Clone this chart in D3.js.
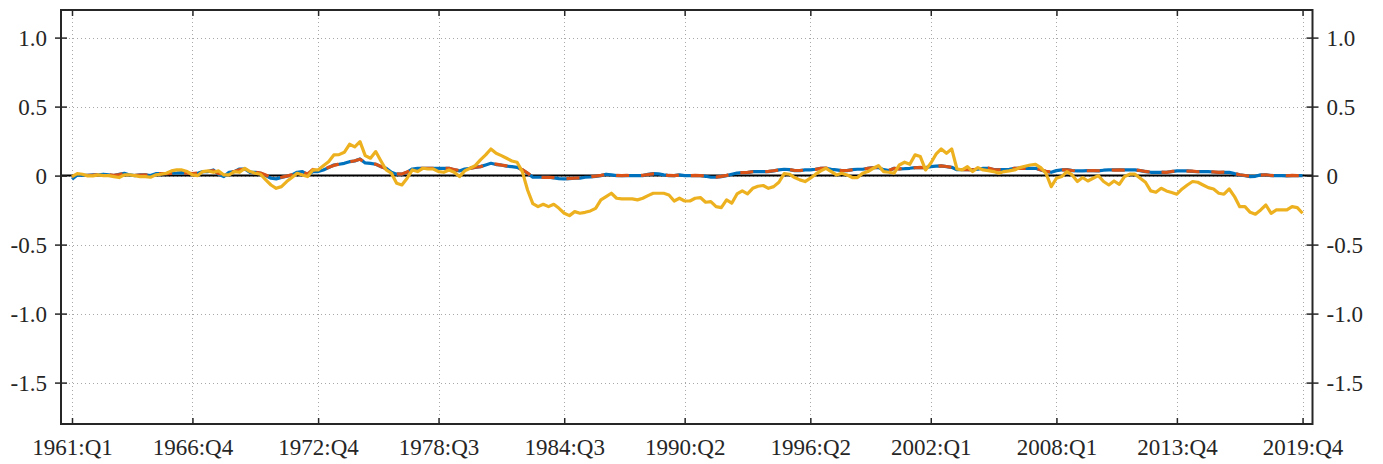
<!DOCTYPE html>
<html>
<head>
<meta charset="utf-8">
<script src="https://cdn.jsdelivr.net/npm/d3@7"></script>
<style>
  html, body { margin: 0; padding: 0; background: #fff; }
  svg { display: block; }
  text { font-family: "Liberation Serif", "Times New Roman", serif; fill: #262626; }
</style>
</head>
<body>
<svg id="chart" width="1383" height="464"></svg>
<script>
// Quarterly periods, 1961:Q1 .. 2019:Q4
const firstYear = 1961;
const lastYear = 2019;
const periods = [];
for (let y = firstYear; y <= lastYear; y++) for (let q = 1; q <= 4; q++) periods.push(y + ":Q" + q);

const xTickLabels = ["1961:Q1", "1966:Q4", "1972:Q4", "1978:Q3", "1984:Q3", "1990:Q2",
                     "1996:Q2", "2002:Q1", "2008:Q1", "2013:Q4", "2019:Q4"];
const yTickValues = [-1.5, -1.0, -0.5, 0, 0.5, 1.0];
const yTickLabels = ["-1.5", "-1.0", "-0.5", "0", "0.5", "1.0"];

// Series 1 (blue)
const seriesBlue = [
  -0.027, 0.005, 0.003, 0.002, 0.005, 0.005, 0.010, 0.005, 0.000, 0.010,
  0.017, 0.005, 0.000, 0.005, 0.005, 0.000, 0.014, 0.014, 0.014, 0.017,
  0.019, 0.022, 0.017, 0.014, 0.017, 0.029, 0.029, 0.041, 0.010, -0.007,
  0.024, 0.029, 0.048, 0.048, 0.024, 0.024, 0.017, 0.000, -0.019, -0.024,
  -0.014, -0.005, 0.005, 0.024, 0.029, 0.005, 0.029, 0.029, 0.041, 0.058,
  0.077, 0.082, 0.089, 0.101, 0.106, 0.121, 0.092, 0.089, 0.082, 0.065,
  0.053, 0.024, 0.010, 0.010, 0.024, 0.048, 0.053, 0.053, 0.053, 0.053,
  0.053, 0.053, 0.053, 0.041, 0.034, 0.048, 0.053, 0.060, 0.065, 0.077,
  0.089, 0.080, 0.077, 0.068, 0.065, 0.060, 0.041, 0.017, -0.012, -0.012,
  -0.012, -0.012, -0.017, -0.022, -0.024, -0.022, -0.019, -0.019, -0.012, -0.010,
  -0.005, 0.000, 0.010, 0.005, 0.000, 0.000, 0.000, 0.000, 0.000, 0.000,
  0.010, 0.014, 0.012, 0.005, 0.000, 0.000, 0.005, 0.000, 0.000, 0.000,
  0.000, -0.005, -0.012, -0.012, -0.007, 0.000, 0.010, 0.019, 0.022, 0.022,
  0.029, 0.029, 0.029, 0.029, 0.034, 0.041, 0.046, 0.043, 0.036, 0.036,
  0.041, 0.041, 0.046, 0.053, 0.053, 0.046, 0.041, 0.036, 0.036, 0.043,
  0.046, 0.046, 0.053, 0.058, 0.058, 0.043, 0.036, 0.053, 0.048, 0.050,
  0.053, 0.058, 0.058, 0.058, 0.065, 0.068, 0.070, 0.065, 0.060, 0.043,
  0.043, 0.043, 0.043, 0.046, 0.053, 0.053, 0.043, 0.043, 0.043, 0.046,
  0.053, 0.053, 0.053, 0.053, 0.053, 0.041, 0.029, 0.024, 0.036, 0.041,
  0.043, 0.036, 0.034, 0.034, 0.036, 0.036, 0.034, 0.039, 0.041, 0.041,
  0.041, 0.041, 0.041, 0.041, 0.036, 0.029, 0.024, 0.024, 0.024, 0.024,
  0.029, 0.034, 0.034, 0.034, 0.031, 0.029, 0.029, 0.029, 0.026, 0.024,
  0.024, 0.024, 0.014, 0.005, 0.000, -0.007, -0.005, 0.005, 0.005, 0.000,
  0.000, 0.000, -0.002, 0.000, 0.000, 0.000
];

// Series 2 (red, dashed)
const seriesRed = [
  -0.008, 0.002, 0.000, 0.002, 0.003, 0.005, 0.008, 0.006, 0.002, 0.008,
  0.015, 0.007, 0.002, 0.004, 0.006, 0.002, 0.012, 0.015, 0.014, 0.016,
  0.020, 0.021, 0.018, 0.015, 0.018, 0.027, 0.031, 0.036, 0.015, 0.002,
  0.022, 0.030, 0.043, 0.045, 0.028, 0.025, 0.019, 0.004, -0.012, -0.018,
  -0.012, -0.004, 0.006, 0.022, 0.026, 0.012, 0.045, 0.031, 0.042, 0.060,
  0.074, 0.084, 0.086, 0.099, 0.108, 0.118, 0.096, 0.087, 0.083, 0.066,
  0.050, 0.026, 0.012, 0.011, 0.026, 0.046, 0.054, 0.052, 0.053, 0.052,
  0.054, 0.052, 0.053, 0.043, 0.038, 0.046, 0.052, 0.061, 0.064, 0.079,
  0.087, 0.083, 0.076, 0.070, 0.064, 0.058, 0.043, 0.019, -0.010, -0.011,
  -0.013, -0.012, -0.015, -0.020, -0.022, -0.021, -0.018, -0.017, -0.011, -0.008,
  -0.004, 0.002, 0.009, 0.006, 0.001, 0.000, 0.001, 0.000, 0.001, 0.002,
  0.008, 0.013, 0.011, 0.006, 0.001, 0.000, 0.004, 0.001, 0.000, 0.001,
  0.000, -0.004, -0.010, -0.011, -0.006, 0.002, 0.011, 0.018, 0.021, 0.023,
  0.028, 0.030, 0.028, 0.030, 0.035, 0.040, 0.045, 0.044, 0.037, 0.037,
  0.040, 0.042, 0.045, 0.052, 0.054, 0.047, 0.040, 0.037, 0.037, 0.042,
  0.047, 0.045, 0.052, 0.057, 0.059, 0.045, 0.038, 0.052, 0.049, 0.051,
  0.052, 0.057, 0.059, 0.057, 0.064, 0.067, 0.071, 0.066, 0.059, 0.045,
  0.042, 0.044, 0.042, 0.047, 0.052, 0.054, 0.044, 0.042, 0.044, 0.047,
  0.052, 0.054, 0.052, 0.054, 0.052, 0.043, 0.031, 0.026, 0.035, 0.042,
  0.042, 0.037, 0.033, 0.035, 0.035, 0.037, 0.035, 0.038, 0.042, 0.040,
  0.042, 0.040, 0.042, 0.040, 0.037, 0.030, 0.025, 0.023, 0.025, 0.023,
  0.030, 0.033, 0.035, 0.033, 0.032, 0.028, 0.030, 0.028, 0.027, 0.023,
  0.025, 0.023, 0.015, 0.006, 0.001, -0.005, -0.004, 0.004, 0.006, 0.001,
  0.000, 0.001, -0.001, 0.001, 0.000, 0.000
];

// Series 3 (yellow)
const seriesYellow = [
  -0.007, 0.014, 0.010, -0.002, -0.002, 0.005, 0.000, 0.000, -0.007, -0.014,
  0.005, 0.005, 0.000, -0.007, -0.007, -0.012, 0.005, 0.010, 0.017, 0.034,
  0.041, 0.041, 0.029, 0.005, 0.000, 0.029, 0.034, 0.024, 0.034, 0.005,
  0.005, 0.029, 0.024, 0.053, 0.029, 0.017, 0.010, -0.031, -0.068, -0.092,
  -0.080, -0.043, -0.014, 0.017, 0.005, -0.007, 0.041, 0.041, 0.072, 0.101,
  0.150, 0.152, 0.169, 0.227, 0.208, 0.246, 0.145, 0.126, 0.174, 0.106,
  0.041, 0.017, -0.056, -0.068, -0.019, 0.041, 0.029, 0.053, 0.048, 0.048,
  0.029, 0.024, 0.041, 0.024, -0.007, 0.034, 0.053, 0.072, 0.114, 0.150,
  0.193, 0.162, 0.145, 0.126, 0.106, 0.097, 0.029, -0.104, -0.203, -0.225,
  -0.208, -0.225, -0.208, -0.237, -0.273, -0.290, -0.261, -0.273, -0.266, -0.256,
  -0.237, -0.176, -0.152, -0.128, -0.164, -0.169, -0.169, -0.169, -0.176, -0.164,
  -0.145, -0.128, -0.128, -0.128, -0.140, -0.184, -0.164, -0.184, -0.184, -0.164,
  -0.159, -0.193, -0.188, -0.225, -0.232, -0.176, -0.200, -0.133, -0.111, -0.133,
  -0.092, -0.077, -0.072, -0.092, -0.080, -0.048, 0.014, 0.010, -0.014, -0.031,
  -0.043, -0.019, 0.010, 0.034, 0.053, 0.029, 0.005, 0.017, 0.005, -0.014,
  -0.014, 0.017, 0.029, 0.053, 0.072, 0.029, 0.024, 0.017, 0.077, 0.097,
  0.082, 0.150, 0.138, 0.041, 0.089, 0.155, 0.193, 0.162, 0.193, 0.048,
  0.041, 0.065, 0.029, 0.058, 0.041, 0.036, 0.029, 0.017, 0.029, 0.034,
  0.041, 0.058, 0.068, 0.077, 0.082, 0.058, 0.017, -0.080, -0.019, -0.007,
  0.029, 0.005, -0.043, -0.014, -0.039, -0.019, 0.000, -0.043, -0.068, -0.039,
  -0.063, -0.007, 0.010, 0.010, -0.019, -0.048, -0.111, -0.121, -0.092, -0.111,
  -0.123, -0.135, -0.097, -0.068, -0.043, -0.048, -0.068, -0.087, -0.097, -0.128,
  -0.135, -0.097, -0.152, -0.225, -0.225, -0.266, -0.280, -0.249, -0.213, -0.273,
  -0.249, -0.249, -0.249, -0.225, -0.232, -0.273
];

const colors = { blue: "#0072BD", red: "#D95319", yellow: "#EDB120" };

const plot = { left: 61, right: 1312.5, top: 10, bottom: 424 };

const svg = d3.select("#chart");

const x = d3.scaleLinear().domain([-2.1, periods.length + 0.9]).range([plot.left, plot.right]);
const y = d3.scaleLinear().domain([-1.8, 1.2]).range([plot.bottom, plot.top]);

const xTickIdx = xTickLabels.map(l => periods.indexOf(l));

// Dotted grid
const grid = svg.append("g").attr("stroke", "#a8a8a8").attr("stroke-width", 1)
  .attr("stroke-dasharray", "1,3");
grid.selectAll("line.v").data(xTickIdx).join("line")
  .attr("x1", d => Math.round(x(d)) + 0.5).attr("x2", d => Math.round(x(d)) + 0.5)
  .attr("y1", plot.top).attr("y2", plot.bottom);
grid.selectAll("line.h").data(yTickValues).join("line")
  .attr("x1", plot.left).attr("x2", plot.right)
  .attr("y1", d => Math.round(y(d)) + 0.5).attr("y2", d => Math.round(y(d)) + 0.5);

// Zero reference line
svg.append("line")
  .attr("x1", plot.left).attr("x2", plot.right)
  .attr("y1", y(0)).attr("y2", y(0))
  .attr("stroke", "#000").attr("stroke-width", 2);

// Series lines
const lineWidth = 3.2;
const line = d3.line().x((d, i) => x(i)).y(d => y(d));
svg.append("path").datum(seriesBlue).attr("d", line)
  .attr("fill", "none").attr("stroke", colors.blue).attr("stroke-width", lineWidth)
  .attr("stroke-linejoin", "round");
svg.append("path").datum(seriesRed).attr("d", line)
  .attr("fill", "none").attr("stroke", colors.red).attr("stroke-width", lineWidth)
  .attr("stroke-dasharray", "13,12").attr("stroke-dashoffset", 12)
  .attr("stroke-linejoin", "round");
svg.append("path").datum(seriesYellow).attr("d", line)
  .attr("fill", "none").attr("stroke", colors.yellow).attr("stroke-width", lineWidth)
  .attr("stroke-linejoin", "round");

// Axes
const axisColor = "#262626";
const font = 23;

const xBottom = d3.axisBottom(x).tickValues(xTickIdx).tickFormat((d, i) => xTickLabels[i])
  .tickSizeInner(-6).tickSizeOuter(0).tickPadding(15);
const xTop = d3.axisTop(x).tickValues(xTickIdx).tickFormat("")
  .tickSizeInner(-6).tickSizeOuter(0);
const yLeft = d3.axisLeft(y).tickValues(yTickValues).tickFormat((d, i) => yTickLabels[i])
  .tickSizeInner(6).tickSizeOuter(0).tickPadding(8);
const yRight = d3.axisRight(y).tickValues(yTickValues).tickFormat((d, i) => yTickLabels[i])
  .tickSizeInner(6).tickSizeOuter(0).tickPadding(8);

function style(g) {
  g.select(".domain").remove();
  g.selectAll(".tick line").attr("stroke", axisColor).attr("stroke-width", 1.5);
  g.selectAll(".tick text").attr("font-size", font).attr("fill", axisColor)
    .attr("font-family", '"Liberation Serif", "Times New Roman", serif');
}

svg.append("g").attr("transform", `translate(0,${plot.bottom})`).call(xBottom).call(style);
svg.append("g").attr("transform", `translate(0,${plot.top})`).call(xTop).call(style);
const gl = svg.append("g").attr("transform", `translate(${plot.left},0)`).call(yLeft).call(style);
const gr = svg.append("g").attr("transform", `translate(${plot.right},0)`).call(yRight).call(style);
// y ticks cross the frame on both sides
gl.selectAll(".tick line").attr("x1", 6).attr("x2", -6);
gr.selectAll(".tick line").attr("x1", -6).attr("x2", 6);
gl.selectAll(".tick text").attr("x", -14).attr("dy", "0.36em");
gr.selectAll(".tick text").attr("x", 14).attr("dy", "0.36em");

// Frame
svg.append("rect")
  .attr("x", plot.left).attr("y", plot.top)
  .attr("width", plot.right - plot.left).attr("height", plot.bottom - plot.top)
  .attr("fill", "none").attr("stroke", axisColor).attr("stroke-width", 2);
</script>
</body>
</html>
